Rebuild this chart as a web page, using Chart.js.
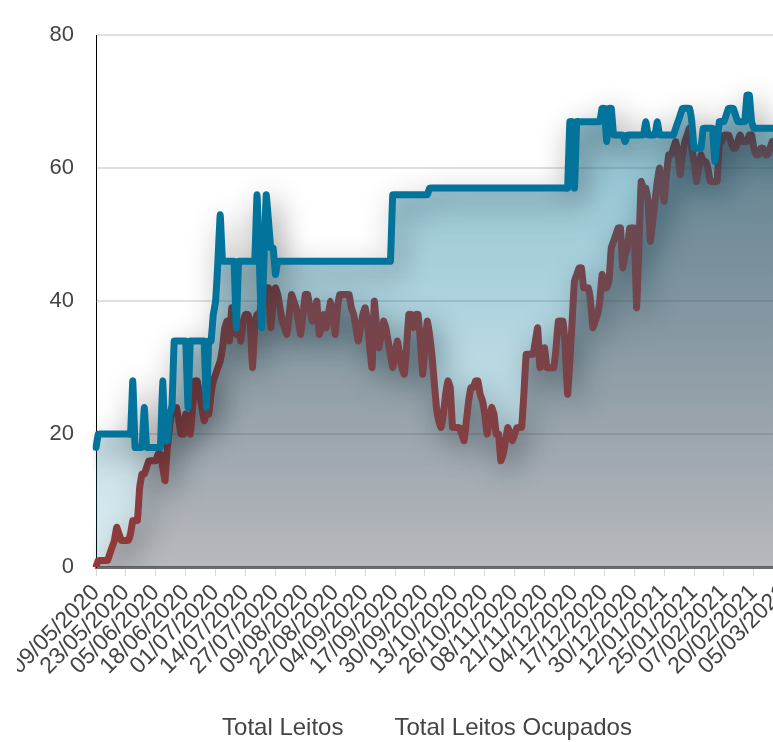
<!DOCTYPE html>
<html>
<head>
<meta charset="utf-8">
<script src="https://cdn.jsdelivr.net/npm/chart.js@4"></script>
<style>
  html, body { margin: 0; padding: 0; background: #fff; overflow: hidden; width: 773px; height: 742px; }
  #wrap { position: absolute; left: 17px; top: 0; width: 808px; height: 750px; }
</style>
</head>
<body>
<div id="wrap"><canvas id="leitos" width="808" height="750"></canvas></div>
<script>
// Series start on 09/05/2020, one day missing in the first fortnight
const START_DATE = new Date(2020, 4, 9);
const MISSING_DAY = '16/05/2020';
const POINT_COUNT = 304;
const TICK_EVERY = 13;

const seriesNames = ['Total Leitos', 'Total Leitos Ocupados'];

const totalLeitos = [
    18, 20, 20, 20, 20, 20, 20, 20, 20, 20,
    20, 20, 20, 20, 20, 20, 28, 18, 18, 18,
    18, 24, 18, 18, 18, 18, 18, 18, 18, 28,
    19, 19, 23, 24, 34, 34, 34, 34, 34, 34,
    24, 34, 34, 34, 34, 34, 34, 34, 24, 34,
    34, 38, 40, 46, 53, 46, 46, 46, 46, 46,
    46, 36, 46, 46, 46, 46, 46, 46, 46, 46,
    56, 46, 36, 46, 56, 52, 48, 48, 44, 46,
    46, 46, 46, 46, 46, 46, 46, 46, 46, 46,
    46, 46, 46, 46, 46, 46, 46, 46, 46, 46,
    46, 46, 46, 46, 46, 46, 46, 46, 46, 46,
    46, 46, 46, 46, 46, 46, 46, 46, 46, 46,
    46, 46, 46, 46, 46, 46, 46, 46, 46, 56,
    56, 56, 56, 56, 56, 56, 56, 56, 56, 56,
    56, 56, 56, 56, 56, 57, 57, 57, 57, 57,
    57, 57, 57, 57, 57, 57, 57, 57, 57, 57,
    57, 57, 57, 57, 57, 57, 57, 57, 57, 57,
    57, 57, 57, 57, 57, 57, 57, 57, 57, 57,
    57, 57, 57, 57, 57, 57, 57, 57, 57, 57,
    57, 57, 57, 57, 57, 57, 57, 57, 57, 57,
    57, 57, 57, 57, 57, 57, 67, 67, 57, 67,
    67, 67, 67, 67, 67, 67, 67, 67, 67, 67,
    69, 69, 64, 69, 69, 65, 65, 65, 65, 65,
    64, 65, 65, 65, 65, 65, 65, 65, 65, 67,
    65, 65, 65, 65, 67, 65, 65, 65, 65, 65,
    65, 65, 66, 67, 68, 69, 69, 69, 69, 67,
    63, 63, 63, 63, 66, 66, 66, 66, 66, 61,
    64, 67, 67, 67, 68, 69, 69, 69, 68, 67,
    67, 67, 67, 71, 71, 67, 66, 66, 66, 66,
    66, 66, 66, 66, 66, 66, 66, 66, 66, 66,
    66, 66, 66, 66
];

const leitosOcupados = [
    0, 1, 1, 1, 1, 1, 2, 3, 4, 6,
    5, 4, 4, 4, 4, 5, 7, 7, 7, 12,
    14, 14, 15, 16, 16, 16, 16, 17, 17, 15,
    13, 18, 21, 24, 24, 24, 22, 20, 20, 23,
    22, 20, 24, 28, 28, 26, 24, 22, 23, 23,
    26, 28, 29, 30, 31, 33, 36, 37, 34, 39,
    36, 35, 36, 34, 37, 38, 38, 37, 30, 36,
    38, 38, 40, 42, 42, 42, 36, 40, 42, 41,
    39, 37, 36, 35, 38, 41, 40, 39, 37, 35,
    38, 41, 41, 39, 37, 38, 40, 35, 36, 38,
    36, 38, 40, 38, 35, 39, 41, 41, 41, 41,
    41, 39, 38, 36, 34, 36, 38, 39, 37, 33,
    30, 40, 36, 33, 35, 37, 36, 34, 32, 30,
    32, 34, 32, 30, 29, 33, 38, 38, 36, 38,
    38, 34, 29, 33, 37, 35, 32, 28, 24, 22,
    21, 23, 26, 28, 27, 21, 21, 21, 21, 20,
    19, 22, 25, 27, 27, 28, 28, 26, 25, 23,
    20, 22, 24, 23, 20, 20, 16, 17, 19, 21,
    20, 19, 20, 21, 21, 21, 26, 32, 32, 32,
    32, 34, 36, 30, 31, 33, 30, 30, 30, 30,
    33, 37, 37, 37, 33, 26, 31, 37, 43, 44,
    45, 45, 42, 42, 42, 40, 36, 37, 38, 40,
    44, 42, 42, 43, 48, 49, 50, 51, 51, 45,
    47, 48, 51, 51, 51, 39, 48, 58, 57, 57,
    55, 49, 52, 55, 58, 60, 57, 55, 59, 62,
    62, 63, 64, 62, 59, 62, 64, 65, 66, 63,
    61, 58, 60, 62, 61, 61, 60, 58, 58, 58,
    58, 64, 64, 65, 65, 65, 64, 63, 63, 64,
    65, 64, 64, 64, 65, 65, 63, 62, 62, 63,
    63, 62, 62, 63, 64, 63, 63, 64, 63, 63,
    64, 63, 64, 64
];

const yTicks = [0, 20, 40, 60, 80];

// daily dd/mm/yyyy labels
function buildDates() {
    const out = [];
    const d = new Date(START_DATE);
    while (out.length < POINT_COUNT) {
        const s = String(d.getDate()).padStart(2, '0') + '/' +
                  String(d.getMonth() + 1).padStart(2, '0') + '/' + d.getFullYear();
        if (s !== MISSING_DAY) out.push(s);
        d.setDate(d.getDate() + 1);
    }
    return out;
}
const dates = buildDates();

/**
 * Vertical fill gradient over the chart area.
 * @param {Array} rgb
 * @param {number} topAlpha
 * @param {number} bottomAlpha
 */
function areaGradient(rgb, topAlpha, bottomAlpha) {
    return (context) => {
        const { ctx, chartArea } = context.chart;
        if (!chartArea) return `rgba(${rgb.join(',')},${bottomAlpha})`;
        const g = ctx.createLinearGradient(0, chartArea.top, 0, chartArea.bottom);
        g.addColorStop(0, `rgba(${rgb.join(',')},${topAlpha})`);
        g.addColorStop(1, `rgba(${rgb.join(',')},${bottomAlpha})`);
        return g;
    };
}

// blurred shadow under each line (fills stay flat)
const shadowPlugin = {
    id: 'lineShadow',
    beforeDatasetDraw(chart) {
        const ctx = chart.ctx;
        ctx.save();
        ctx.shadowColor = 'rgba(0, 0, 0, 0.45)';
        ctx.shadowBlur = 30;
        ctx.shadowOffsetX = 6;
        ctx.shadowOffsetY = 10;
    },
    afterDatasetDraw(chart) {
        chart.ctx.restore();
    }
};

Chart.defaults.font.family = '"Liberation Sans", Arial, sans-serif';
Chart.defaults.color = '#454545';

new Chart(document.getElementById('leitos'), {
    type: 'line',
    data: {
        labels: dates,
        datasets: [{
            label: seriesNames[0],
            data: totalLeitos,
            borderColor: '#02749b',
            backgroundColor: areaGradient([0, 115, 150], 0.5, 0.13),
            borderWidth: 7,
            fill: 'origin',
            pointRadius: 0,
            tension: 0.1,
            borderJoinStyle: 'round',
            borderCapStyle: 'round'
        }, {
            label: seriesNames[1],
            data: leitosOcupados,
            borderColor: '#a8302a',
            backgroundColor: areaGradient([110, 58, 58], 0.62, 0.3),
            borderWidth: 7,
            fill: 'origin',
            pointRadius: 0,
            tension: 0.1,
            borderJoinStyle: 'round',
            borderCapStyle: 'round'
        }]
    },
    options: {
        responsive: false,
        animation: false,
        layout: { padding: { top: 16, left: 0, right: 0, bottom: 0 } },
        plugins: {
            tooltip: { enabled: false },
            legend: {
                position: 'bottom',
                labels: {
                    boxWidth: 0,
                    padding: 39,
                    font: { size: 24 },
                    color: '#444',
                    generateLabels: chart => Chart.defaults.plugins.legend.labels.generateLabels(chart)
                        .map(l => Object.assign(l, { fillStyle: 'transparent', strokeStyle: 'transparent', lineWidth: 0 }))
                }
            }
        },
        scales: {
            x: {
                afterBuildTicks: axis => {
                    axis.ticks = axis.ticks.filter((t, i) => i % TICK_EVERY === 0);
                },
                afterFit: axis => {
                    axis.paddingLeft = 0;
                    axis.paddingRight = 32;
                    axis.height -= 6;
                },
                ticks: { autoSkip: false, minRotation: 45, maxRotation: 45, font: { size: 23 }, color: '#444' },
                grid: { drawOnChartArea: false, drawTicks: true, tickLength: 9, tickColor: 'rgba(0,0,0,0.15)' },
                border: { color: '#6b6b6b', width: 3 }
            },
            y: {
                min: 0,
                max: 80,
                afterBuildTicks: axis => { axis.ticks = yTicks.map(v => ({ value: v })); },
                afterFit: axis => { axis.width = 79; },
                ticks: { font: { size: 22 }, color: '#444', padding: 22 },
                grid: { drawTicks: false, color: 'rgba(0,0,0,0.12)', lineWidth: 2 },
                border: { color: '#000', width: 1 }
            }
        }
    },
    plugins: [shadowPlugin]
});
</script>
</body>
</html>
